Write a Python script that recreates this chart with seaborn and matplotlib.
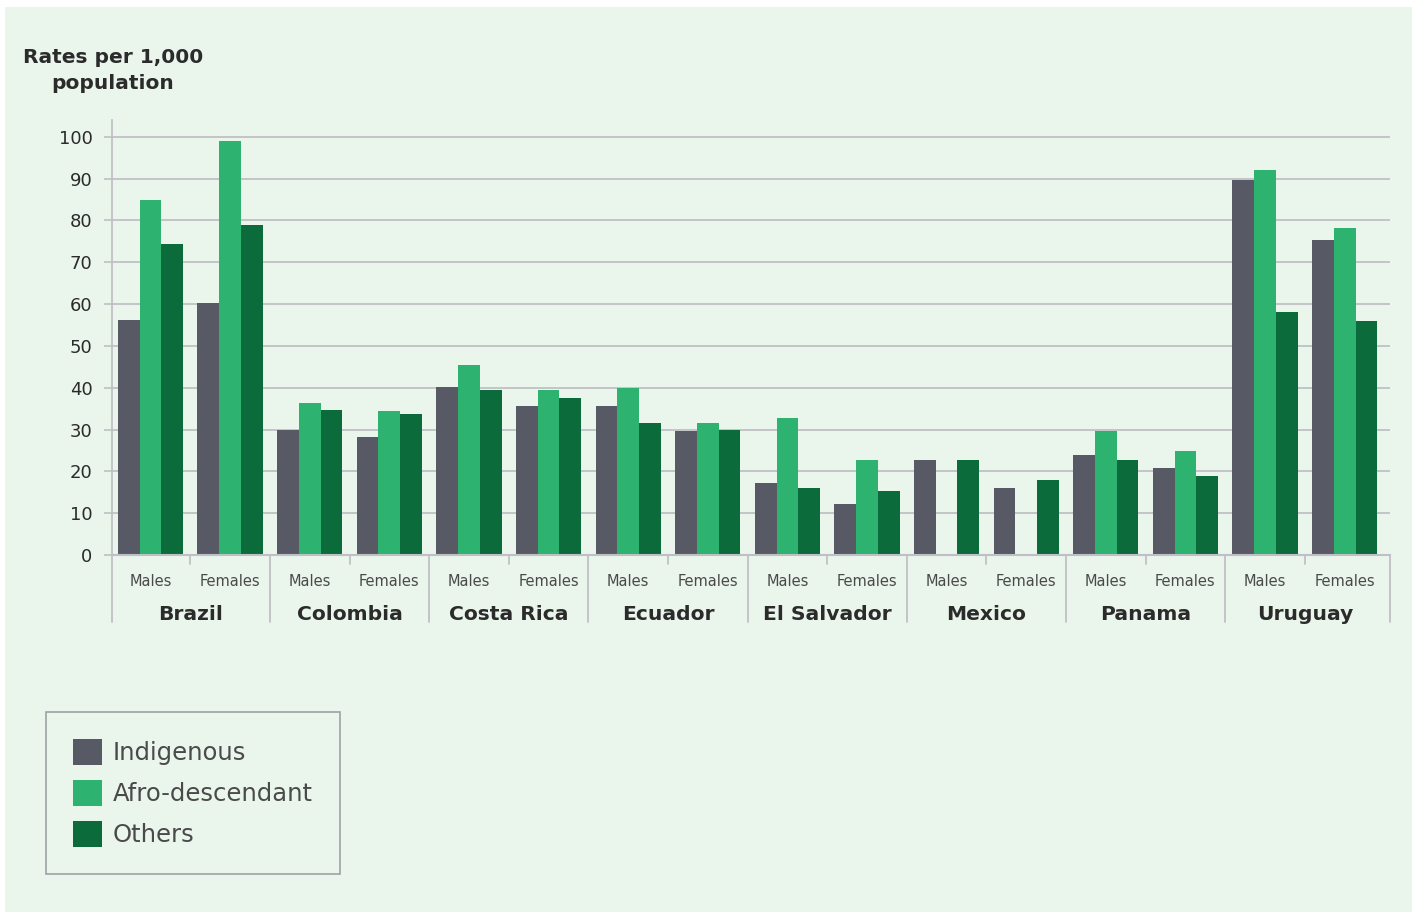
import numpy as np
import pandas as pd
import matplotlib
matplotlib.use("Agg")
import matplotlib.pyplot as plt
from matplotlib.patches import Rectangle, Patch
import matplotlib.transforms as mtransforms
import seaborn as sns

# ---- data ----
countries = ["Brazil", "Colombia", "Costa Rica", "Ecuador",
             "El Salvador", "Mexico", "Panama", "Uruguay"]
sexes = ["Males", "Females"]
groups = ["Indigenous", "Afro-descendant", "Others"]
indigenous = [56.1, 60.3, 30.0, 28.2, 40.1, 35.6, 35.6, 29.6,
              17.1, 12.3, 22.7, 16.1, 23.9, 20.8, 89.6, 75.3]
afro = [84.8, 99.0, 36.3, 34.5, 45.4, 39.4, 40.0, 31.6,
        32.7, 22.8, None, None, 29.6, 24.8, 92.0, 78.2]
others = [74.3, 78.8, 34.7, 33.6, 39.4, 37.6, 31.6, 30.0,
          15.9, 15.4, 22.7, 18.0, 22.7, 18.9, 58.2, 56.0]
y_ticks = [0, 10, 20, 30, 40, 50, 60, 70, 80, 90, 100]
title_text = "Rates per 1,000\npopulation"

# ---- styling ----
BG = "#EAF5EC"
GRID = "#BFC0C6"
TXT = "#2B2B2B"
SUB = "#4A4A4A"
palette = {"Indigenous": "#575965", "Afro-descendant": "#2DB36F", "Others": "#0C6B3A"}

sns.set_theme(style="white")
plt.rcParams["font.family"] = ["DejaVu Sans"]

slots = [f"{c}|{s}" for c in countries for s in sexes]
rows = []
for i, slot in enumerate(slots):
    for g, vals in zip(groups, [indigenous, afro, others]):
        v = vals[i]
        rows.append({"slot": slot, "group": g, "value": np.nan if v is None else v})
df = pd.DataFrame(rows)

W, H = 1416, 915
fig = plt.figure(figsize=(W / 100, H / 100), dpi=100, facecolor="white")
fig.patches.append(Rectangle((5 / W, 1 - 912 / H), (1412 - 5) / W, (912 - 7) / H,
                             transform=fig.transFigure, facecolor=BG,
                             edgecolor="none", zorder=-10))

ax_left, ax_right = 112, 1390
ax_bottom, ax_top = 555, 120
ax = fig.add_axes([ax_left / W, 1 - ax_bottom / H,
                   (ax_right - ax_left) / W, (ax_bottom - ax_top) / H])
ax.set_facecolor(BG)

sns.barplot(data=df, x="slot", y="value", hue="group", order=slots,
            hue_order=groups, palette=palette, width=0.82, errorbar=None,
            saturation=1, legend=False, ax=ax, zorder=3, linewidth=0)

XL, XR = -0.484, 15.57
ax.set_xlim(XL, XR)
ax.set_ylim(0, 104)
ax.set_yticks(y_ticks)
ax.set_yticklabels([str(t) for t in y_ticks], fontsize=13, color=TXT)
ax.tick_params(axis="y", length=6, width=1.2, color=GRID, pad=8, left=True)
ax.set_xticks([])
ax.set_xlabel("")
ax.set_ylabel("")
for yv in y_ticks[1:]:
    ax.axhline(yv, color=GRID, lw=1.3, zorder=1)
for s in ["top", "right"]:
    ax.spines[s].set_visible(False)
ax.spines["left"].set_color(GRID)
ax.spines["left"].set_linewidth(1.3)
ax.spines["bottom"].set_color(GRID)
ax.spines["bottom"].set_linewidth(1.5)
ax.spines["bottom"].set_zorder(4)

# hierarchical x labels
trans = mtransforms.blended_transform_factory(ax.transData, ax.transAxes)
axh = ax_bottom - ax_top
def yfrac(py):
    return (ax_bottom - py) / axh

for i, slot in enumerate(slots):
    c, s = slot.split("|")
    ax.text(i, yfrac(581), s, transform=trans, ha="center", va="center",
            fontsize=10.5, color=SUB)
for k, c in enumerate(countries):
    ax.text(2 * k + 0.5, yfrac(614), c, transform=trans, ha="center", va="center",
            fontsize=14.6, fontweight="bold", color=TXT)
seps = [XL] + [2 * k - 0.5 for k in range(1, len(countries))] + [XR]
for xb in seps:
    ax.plot([xb, xb], [0, yfrac(622)], transform=trans, color=GRID, lw=1.3,
            clip_on=False, zorder=2)
for k in range(len(countries)):
    xm = 2 * k + 0.5
    ax.plot([xm, xm], [0, yfrac(564)], transform=trans, color=GRID, lw=1.3,
            clip_on=False, zorder=2)

# title
fig.text(113 / W, 1 - 70.5 / H, title_text, ha="center", va="center",
         multialignment="center", fontsize=14.5, fontweight="bold", color=TXT,
         linespacing=1.5)

# legend
handles = [Patch(facecolor=palette[g], edgecolor="none", label=g) for g in groups]
leg = fig.legend(handles=handles, loc="upper left",
                 bbox_to_anchor=(46 / W, 1 - 712 / H), bbox_transform=fig.transFigure,
                 fontsize=17.5, frameon=True, fancybox=False, borderaxespad=0,
                 handlelength=1.2, handleheight=1.3, handletextpad=0.45,
                 labelspacing=0.6, borderpad=1.1)
leg.get_frame().set_edgecolor("#8A8D94")
leg.get_frame().set_linewidth(1.2)
leg.get_frame().set_facecolor(BG)
for t in leg.get_texts():
    t.set_color(SUB)

fig.savefig("out.png", dpi=100, facecolor="white")
